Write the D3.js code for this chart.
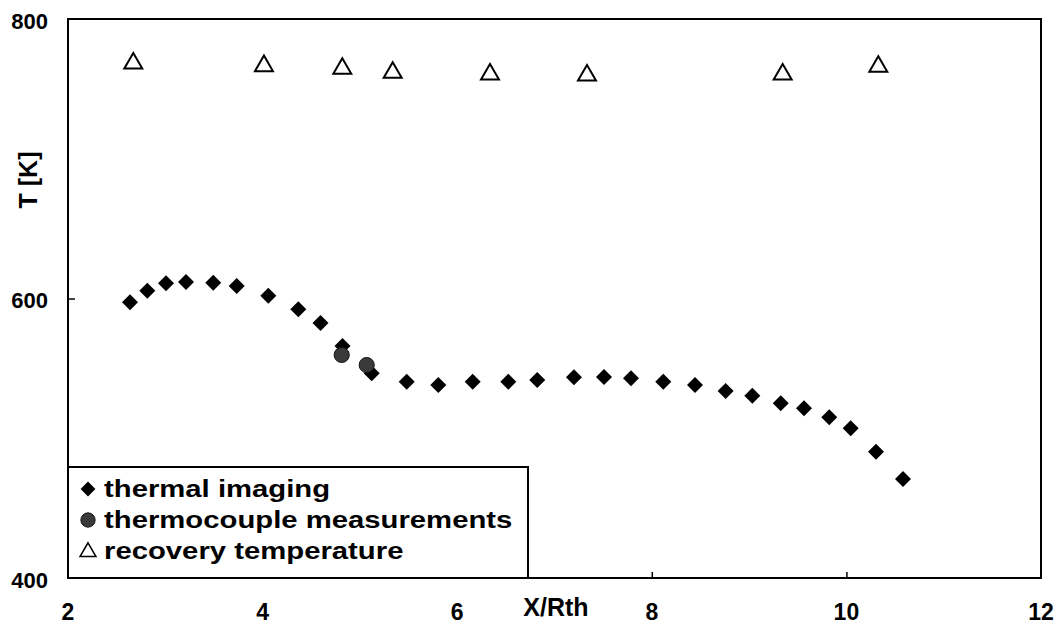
<!DOCTYPE html>
<html>
<head>
<meta charset="utf-8">
<script src="https://cdn.jsdelivr.net/npm/d3@7"></script>
<style>
  html, body { margin: 0; padding: 0; background: #fff; }
  svg { display: block; font-family: "Liberation Sans", Arial, sans-serif; font-weight: bold; }
</style>
</head>
<body>
<svg id="chart" width="1059" height="626"></svg>
<script>
// ---- data ----
const thermalX = [2.637, 2.815, 3.007, 3.213, 3.493, 3.734, 4.059, 4.367, 4.595, 4.821,
                  5.121, 5.481, 5.806, 6.159, 6.525, 6.823, 7.200, 7.509, 7.786, 8.118,
                  8.444, 8.759, 9.033, 9.325, 9.564, 9.824, 10.044, 10.304, 10.582];
const thermalT = [597.3, 605.6, 610.9, 611.8, 611.3, 608.9, 602.0, 592.3, 582.5, 566.0,
                  546.5, 540.5, 538.1, 540.5, 540.5, 541.7, 543.6, 543.8, 542.9, 540.5,
                  538.1, 533.8, 530.4, 525.0, 521.4, 515.0, 507.1, 490.4, 470.8];
const coupleX = [4.813, 5.070];
const coupleT = [559.6, 552.4];
const recoveryX = [2.671, 4.014, 4.819, 5.337, 6.337, 7.334, 9.345, 10.328];
const recoveryT = [768.3, 766.4, 764.5, 761.6, 760.4, 759.7, 760.4, 765.9];
const xTicks = [2, 4, 6, 8, 10, 12];
const yTicks = [400, 600, 800];
const legendLabels = ["thermal imaging", "thermocouple measurements", "recovery temperature"];
const xTitle = "X/Rth";
const yTitle = "T [K]";

// ---- layout ----
const L = 68, R = 1041, T = 19, B = 578;
const svg = d3.select("#chart");
const x = d3.scaleLinear().domain([2, 12]).range([L, R]);
const y = d3.scaleLinear().domain([400, 800]).range([B, T]);

// inward ticks via axes (labels drawn separately)
svg.append("g").attr("transform", `translate(0,${B})`)
  .call(d3.axisTop(x).tickValues(xTicks.slice(1, -1)).tickSize(6).tickFormat(""))
  .call(g => g.select(".domain").remove())
  .call(g => g.selectAll("line").attr("stroke", "#000").attr("stroke-width", 1.5));
svg.append("g").attr("transform", `translate(${L},0)`)
  .call(d3.axisRight(y).tickValues(yTicks.slice(1, -1)).tickSize(7).tickFormat(""))
  .call(g => g.select(".domain").remove())
  .call(g => g.selectAll("line").attr("stroke", "#000").attr("stroke-width", 1.5));

// tick labels
svg.append("g").selectAll("text").data(xTicks).join("text")
  .attr("x", d => x(d)).attr("y", 612)
  .attr("text-anchor", "middle").attr("dominant-baseline", "central")
  .attr("font-size", 23).text(d => d);
svg.append("g").selectAll("text").data(yTicks).join("text")
  .attr("x", 48).attr("y", d => y(d) + 2)
  .attr("text-anchor", "end").attr("dominant-baseline", "central")
  .attr("font-size", 22).text(d => d);

// axis titles
svg.append("text").attr("x", 556).attr("y", 607)
  .attr("text-anchor", "middle").attr("dominant-baseline", "central")
  .attr("font-size", 25).text(xTitle);
svg.append("text").attr("transform", "translate(28,180) rotate(-90)")
  .attr("text-anchor", "middle").attr("dominant-baseline", "central")
  .attr("font-size", 25).text(yTitle);

// marks
const diamond = d3.symbol().type(d3.symbolSquare).size(128);
const circle = d3.symbol().type(d3.symbolCircle).size(180);
const tri = d3.symbol().type(d3.symbolTriangle).size(140);

svg.append("g").selectAll("path").data(thermalX.map((v, i) => [v, thermalT[i]])).join("path")
  .attr("d", diamond)
  .attr("transform", d => `translate(${x(d[0])},${y(d[1])}) rotate(45)`)
  .attr("fill", "#000");
svg.append("g").selectAll("path").data(coupleX.map((v, i) => [v, coupleT[i]])).join("path")
  .attr("d", circle)
  .attr("transform", d => `translate(${x(d[0])},${y(d[1])})`)
  .attr("fill", "#3a3a3a").attr("stroke", "#111").attr("stroke-width", 1);
svg.append("g").selectAll("path").data(recoveryX.map((v, i) => [v, recoveryT[i]])).join("path")
  .attr("d", tri)
  .attr("transform", d => `translate(${x(d[0])},${y(d[1])})`)
  .attr("fill", "#fff").attr("stroke", "#000").attr("stroke-width", 2);

// frame
svg.append("rect").attr("x", L).attr("y", T).attr("width", R - L).attr("height", B - T)
  .attr("fill", "none").attr("stroke", "#000").attr("stroke-width", 2);

// legend
const lg = svg.append("g");
lg.append("rect").attr("x", L).attr("y", 467).attr("width", 528 - L).attr("height", B - 467)
  .attr("fill", "#fff").attr("stroke", "#000").attr("stroke-width", 2);
const baselines = [497, 528, 559];
const legendSyms = [
  {d: d3.symbol().type(d3.symbolSquare).size(110)(), rot: 45, fill: "#000", stroke: "none", sw: 0},
  {d: d3.symbol().type(d3.symbolCircle).size(160)(), rot: 0, fill: "#3a3a3a", stroke: "#111", sw: 1},
  {d: d3.symbol().type(d3.symbolTriangle).size(110)(), rot: 0, fill: "#fff", stroke: "#000", sw: 1.5}
];
legendLabels.forEach((lab, i) => {
  const s = legendSyms[i];
  lg.append("path").attr("d", s.d)
    .attr("transform", `translate(88,${baselines[i] - 8 + (i === 2 ? 1 : 0)}) rotate(${s.rot})`)
    .attr("fill", s.fill).attr("stroke", s.stroke).attr("stroke-width", s.sw);
  lg.append("text")
    .attr("transform", `translate(104,${baselines[i]}) scale(1.22,1)`)
    .attr("font-size", 24).text(lab);
});
</script>
</body>
</html>
